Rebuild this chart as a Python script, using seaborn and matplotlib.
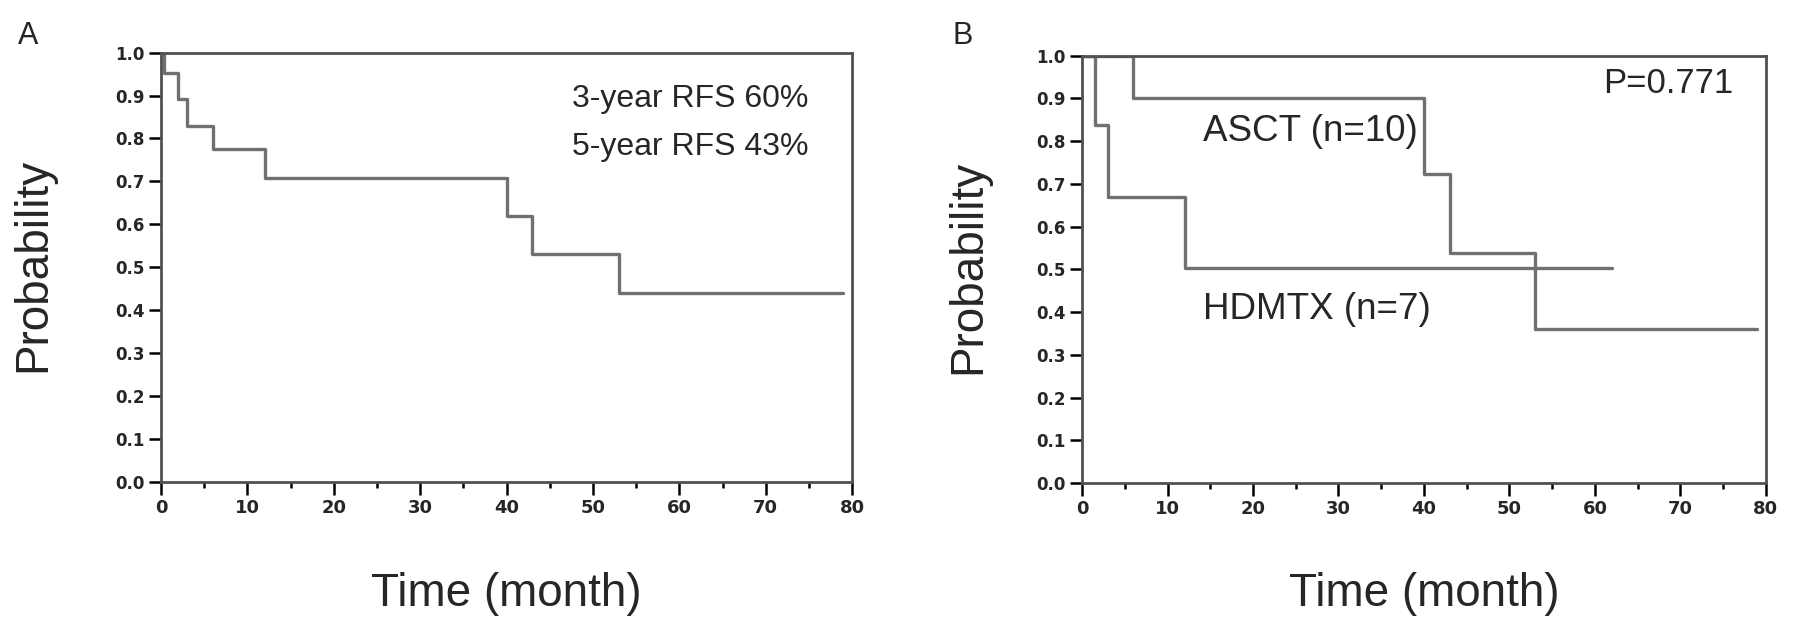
import numpy as np
import pandas as pd
import matplotlib
matplotlib.use("Agg")
import matplotlib.pyplot as plt
from matplotlib.ticker import MultipleLocator
import seaborn as sns

# ===============================
# DATA
# ===============================

# Panel A - overall relapse-free survival
a_time = [0, 0.3, 2, 3, 6, 12, 40, 43, 53, 79]
a_prob = [1.0, 0.952, 0.891, 0.829, 0.775, 0.707, 0.62, 0.531, 0.441, 0.441]

# Panel B - ASCT vs HDMTX
asct_time = [0, 6, 40, 43, 53, 79]
asct_prob = [1.0, 0.90, 0.723, 0.539, 0.36, 0.36]
hdmtx_time = [0, 1.5, 3, 12, 62]
hdmtx_prob = [1.0, 0.838, 0.67, 0.503, 0.503]

a_notes = ["3-year RFS 60%", "5-year RFS 43%"]
b_labels = ["ASCT (n=10)", "HDMTX (n=7)"]
p_text = "P=0.771"

df_a = pd.DataFrame({"time": a_time, "prob": a_prob})
df_b = pd.concat([
    pd.DataFrame({"time": asct_time, "prob": asct_prob, "group": "ASCT"}),
    pd.DataFrame({"time": hdmtx_time, "prob": hdmtx_prob, "group": "HDMTX"}),
])

# ===============================
# STYLE
# ===============================

sns.set_style("ticks")
plt.rcParams["font.family"] = ["Liberation Sans", "DejaVu Sans"]

CURVE = "#707070"
FRAME = "#505050"

fig = plt.figure(figsize=(17.95, 6.26), dpi=100)
ax_a = fig.add_axes([0.0897, 0.230, 0.385, 0.686])
ax_b = fig.add_axes([0.6028, 0.2284, 0.381, 0.6826])

sns.lineplot(data=df_a, x="time", y="prob", ax=ax_a, color=CURVE,
             linewidth=2.4, drawstyle="steps-post", estimator=None, sort=False)
sns.lineplot(data=df_b, x="time", y="prob", units="group", ax=ax_b, color=CURVE,
             linewidth=2.4, drawstyle="steps-post", estimator=None, sort=False)


def style_axes(ax):
    ax.set_xlim(0, 80)
    ax.set_ylim(0, 1.0)
    ax.xaxis.set_major_locator(MultipleLocator(10))
    ax.xaxis.set_minor_locator(MultipleLocator(5))
    ax.yaxis.set_major_locator(MultipleLocator(0.1))
    ax.set_yticklabels([f"{v:.1f}" for v in ax.get_yticks()])
    for s in ax.spines.values():
        s.set_visible(True)
        s.set_color(FRAME)
        s.set_linewidth(2)
    ax.tick_params(which="major", length=9, width=1.8, color="black", pad=3)
    ax.tick_params(axis="x", which="minor", length=4, width=1.8, color="black")
    for lab in ax.get_yticklabels():
        lab.set_fontfamily("DejaVu Sans")
        lab.set_fontweight("bold")
        lab.set_fontsize(12)
    for lab in ax.get_xticklabels():
        lab.set_fontfamily("DejaVu Sans")
        lab.set_fontweight("bold")
        lab.set_fontsize(13)
    ax.set_xlabel("Time (month)", fontsize=33, va="center")
    ax.set_ylabel("Probability", fontsize=33, va="center")
    ax.xaxis.set_label_coords(0.5, -0.26)


style_axes(ax_a)
style_axes(ax_b)
ax_a.yaxis.set_label_coords(-0.185, 0.505)
ax_b.yaxis.set_label_coords(-0.167, 0.505)

# annotations
ax_a.text(47.6, 0.893, a_notes[0], fontsize=23, va="center", ha="left")
ax_a.text(47.6, 0.78, a_notes[1], fontsize=23, va="center", ha="left")
ax_b.text(61, 0.935, p_text, fontsize=25, va="center", ha="left")
ax_b.text(14.2, 0.822, b_labels[0], fontsize=26.5, va="center", ha="left")
ax_b.text(14.2, 0.405, b_labels[1], fontsize=26.5, va="center", ha="left")

fig.text(28 / 1795, 1 - 36 / 626, "A", fontsize=22, va="center", ha="center")
fig.text(963 / 1795, 1 - 36 / 626, "B", fontsize=22, va="center", ha="center")

plt.savefig("out.png", dpi=100)
